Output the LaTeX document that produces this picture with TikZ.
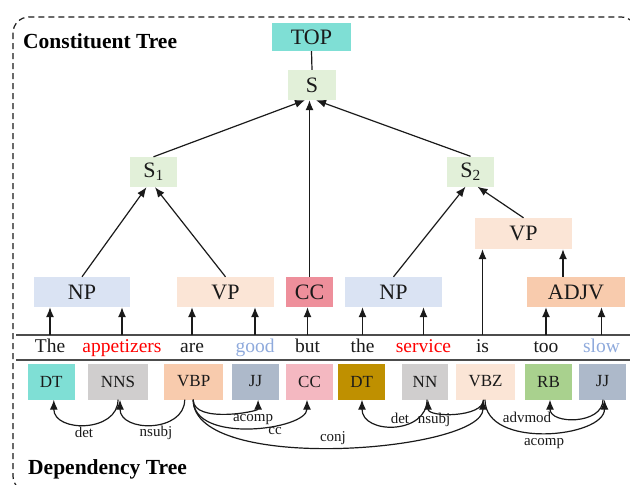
\documentclass[tikz,border=0pt]{standalone}
\usepackage{fontspec}
\setmainfont{Liberation Serif}
\usetikzlibrary{arrows.meta}
\definecolor{cTeal}{HTML}{7FDFD5}
\definecolor{cGreen}{HTML}{E2F0D9}
\definecolor{cBlue}{HTML}{DAE3F3}
\definecolor{cPeach}{HTML}{FBE5D6}
\definecolor{cOrange}{HTML}{F8CBAD}
\definecolor{cRed}{HTML}{EE8F9B}
\definecolor{cGray}{HTML}{D0CECE}
\definecolor{cSlate}{HTML}{ADB9CA}
\definecolor{cPink}{HTML}{F4B8C1}
\definecolor{cGold}{HTML}{BF9000}
\definecolor{cLime}{HTML}{A9D18E}
\definecolor{wRed}{HTML}{FF0000}
\definecolor{wBlue}{HTML}{8FAADC}
\definecolor{ink}{HTML}{1A1A1A}
\tikzset{
 cbox/.style={inner sep=0pt, minimum height=30pt, text=ink, font=\fontsize{22}{24}\selectfont},
 dbox/.style={inner sep=0pt, minimum height=36pt, minimum width=47pt, text=ink, font=\fontsize{17}{19}\selectfont},
 word/.style={inner sep=0pt, anchor=base, text=ink, font=\fontsize{19.5}{22}\selectfont},
 lbl/.style={inner sep=0pt, anchor=base, text=ink, font=\fontsize{15}{17}\selectfont},
 title/.style={inner sep=0pt, anchor=base west, text=black, font=\fontsize{21.5}{24}\selectfont\bfseries},
 arr/.style={line width=1.2pt, draw=ink, -{Latex[length=10pt,width=8pt]}},
 plainline/.style={line width=1.2pt, draw=ink},
 sepline/.style={line width=1.6pt, draw=black!70},
 border/.style={line width=1.2pt, draw=ink, dash pattern=on 6pt off 4pt, rounded corners=16pt},
}
\begin{document}
\begin{tikzpicture}[x=1pt,y=-1pt]
\useasboundingbox (0,0) rectangle (630,485);
\begin{scope}
\clip (0,0) rectangle (630,485);
\draw[border] (13,17) rectangle (637,492);
\end{scope}

% titles
\node[title] (t1) at (23,48) {Constituent Tree};
\node[title] (t2) at (28,474) {Dependency Tree};

% constituent nodes
\node[cbox, fill=cTeal, minimum width=79pt, minimum height=28pt] (TOP) at (311.5,37) {TOP};
\node[cbox, fill=cGreen, minimum width=48pt] (S) at (312,85) {S};
\node[cbox, fill=cGreen, minimum width=47pt] (S1) at (153.5,172) {S\textsubscript{1}};
\node[cbox, fill=cGreen, minimum width=47pt] (S2) at (470.5,171.5) {S\textsubscript{2}};
\node[cbox, fill=cPeach, minimum width=97pt, minimum height=31pt] (VP2) at (523.5,233.5) {VP};
\node[cbox, fill=cBlue, minimum width=96pt] (NP1) at (82,292) {NP};
\node[cbox, fill=cPeach, minimum width=97pt] (VP1) at (225.5,292) {VP};
\node[cbox, fill=cRed, minimum width=47pt] (CC1) at (309.5,292) {CC};
\node[cbox, fill=cBlue, minimum width=97pt] (NP2) at (393.5,292) {NP};
\node[cbox, fill=cOrange, minimum width=98pt] (ADJV) at (576,292) {ADJV};

% separator lines
\coordinate (Lw) at (16,335);
\coordinate (Le) at (630,335);
\coordinate (Mw) at (16,360);
\coordinate (Me) at (630,360);
\draw[sepline] (Lw) -- (Le);
\draw[sepline] (Mw) -- (Me);

% words
\node[word] (w1) at (50,352) {The};
\node[word, text=wRed] (w2) at (122,352) {appetizers};
\node[word] (w3) at (192,352) {are};
\node[word, text=wBlue] (w4) at (255,352) {good};
\node[word] (w5) at (307.5,352) {but};
\node[word] (w6) at (362.5,352) {the};
\node[word, text=wRed] (w7) at (423.5,352) {service};
\node[word] (w8) at (482.5,352) {is};
\node[word] (w9) at (546,352) {too};
\node[word, text=wBlue] (w10) at (601.5,352) {slow};

% constituent edges
\draw[plainline] (S.north) -- (TOP.south);
\draw[arr] (S1.north) -- ([xshift=-7pt]S.south);
\draw[arr] (CC1.north) -- (CC1 |- S.south);
\draw[arr] (S2.north) -- ([xshift=4pt]S.south);
\draw[arr] (NP1.north) -- ([xshift=-7pt]S1.south);
\draw[arr] (VP1.north) -- ([xshift=1.5pt]S1.south);
\draw[arr] (NP2.north) -- ([xshift=-5pt]S2.south);
\draw[arr] (VP2.north) -- ([xshift=7pt]S2.south);
\coordinate (adjtop) at ([xshift=-13pt]ADJV.north);
\draw[arr] (adjtop) -- (adjtop |- VP2.south);
\draw[arr] (w8 |- Lw) -- (w8 |- VP2.south);
\foreach \w/\p in {w1/NP1, w2/NP1, w3/VP1, w4/VP1, w5/CC1, w6/NP2, w7/NP2, w9/ADJV, w10/ADJV}
  \draw[arr] (\w |- Lw) -- (\w |- \p.south);

% dependency boxes
\node[dbox, fill=cTeal] (d1) at (51.3,381.5) {DT};
\node[dbox, fill=cGray, minimum width=60pt] (d2) at (118,381.5) {NNS};
\node[dbox, fill=cOrange, minimum width=59pt] (d3) at (193.7,381.5) {VBP};
\node[dbox, fill=cSlate] (d4) at (255.6,381.5) {JJ};
\node[dbox, fill=cPink] (d5) at (309.5,381.5) {CC};
\node[dbox, fill=cGold] (d6) at (361.7,381.5) {DT};
\node[dbox, fill=cGray, minimum width=46pt] (d7) at (425,381.5) {NN};
\node[dbox, fill=cPeach, minimum width=59pt] (d8) at (485.5,381.5) {VBZ};
\node[dbox, fill=cLime] (d9) at (548.5,381.5) {RB};
\node[dbox, fill=cSlate] (d10) at (602.5,381.5) {JJ};

% dependency arcs
\draw[arr] ([xshift=0pt]d2.south) .. controls +(0,33) and +(0,33) .. ([xshift=2.5pt]d1.south);
\draw[arr] ([xshift=-9pt]d3.south) .. controls +(0,33) and +(0,33) .. ([xshift=2pt]d2.south);
\draw[arr] ([xshift=-0.5pt]d3.south) .. controls +(0,24) and +(0,12) .. ([xshift=2.5pt]d4.south);
\draw[arr] ([xshift=-0.5pt]d3.south) .. controls +(0,45) and +(0,30) .. ([xshift=-2.5pt]d5.south);
\draw[arr] ([xshift=-0.5pt]d3.south) .. controls +(0,75) and +(0,52) .. ([xshift=-2.5pt]d8.south);
\draw[arr] ([xshift=2pt]d7.south) .. controls +(0,35) and +(0,35) .. ([xshift=0.3pt]d6.south);
\draw[arr] ([xshift=-2pt]d8.south) .. controls +(0,18) and +(0,18) .. ([xshift=3pt]d7.south);
\draw[arr] ([xshift=0.5pt]d10.south) .. controls +(0,25) and +(0,25) .. ([xshift=1.5pt]d9.south);
\draw[arr] ([xshift=-0.5pt]d8.south) .. controls +(0,50) and +(0,38) .. ([xshift=2pt]d10.south);

% arc labels
\node[lbl] (l1) at (84,437) {det};
\node[lbl] (l2) at (156,436) {nsubj};
\node[lbl] (l3) at (253,421) {acomp};
\node[lbl] (l4) at (275,434) {cc};
\node[lbl] (l5) at (333,441) {conj};
\node[lbl] (l6) at (400,423) {det};
\node[lbl] (l7) at (434,423) {nsubj};
\node[lbl] (l8) at (527,422) {advmod};
\node[lbl] (l9) at (544,445) {acomp};
\end{tikzpicture}
\end{document}
